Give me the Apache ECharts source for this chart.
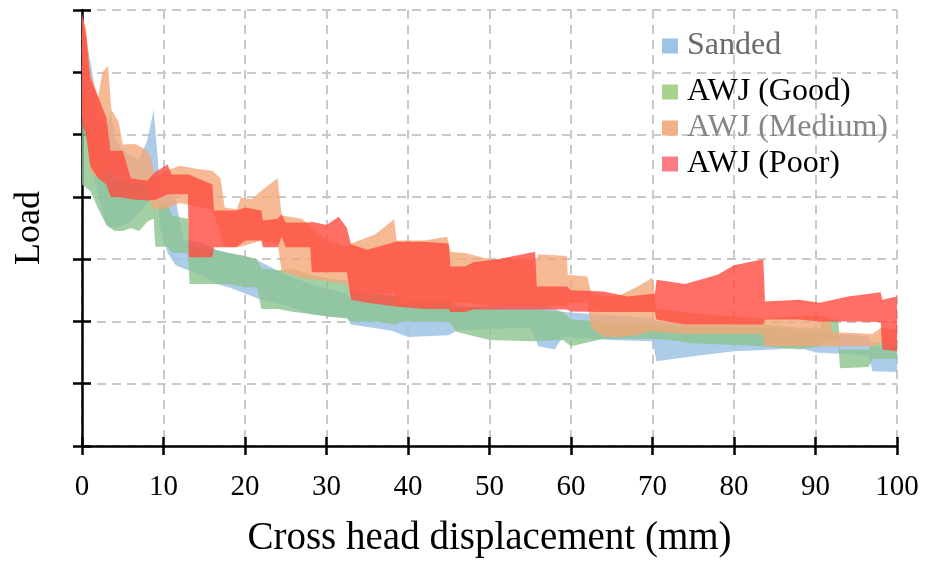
<!DOCTYPE html>
<html><head><meta charset="utf-8">
<script src="https://cdn.jsdelivr.net/npm/echarts@6/dist/echarts.min.js"></script>
<style>html,body{margin:0;padding:0;background:#fff}#c{width:926px;height:563px}</style>
</head><body><div id="c"></div>
<script>
const seriesNames = ['Sanded', 'AWJ (Good)', 'AWJ (Medium)', 'AWJ (Poor)'];

const sandedX    = [0, 1, 2, 3, 3.5, 4.2, 5, 6, 7, 8, 8.8, 9.3, 9.6, 10.5, 11.5, 12.5, 13.5, 15, 16.5, 18, 20, 22, 25, 28, 32.5, 33, 38, 40, 45, 46, 50, 55, 56, 58, 59, 65, 70, 70.5, 75, 80, 85, 88, 90, 95, 96.5, 97, 100];
const sandedLow  = [5.3, 4.6, 4.0, 3.55, 3.5, 3.5, 3.55, 3.6, 3.75, 3.9, 4.0, 3.95, 3.5, 3.1, 2.9, 2.85, 2.8, 2.72, 2.6, 2.55, 2.45, 2.35, 2.25, 2.12, 2.05, 1.95, 1.85, 1.75, 1.78, 1.85, 1.88, 1.9, 1.6, 1.55, 1.75, 1.7, 1.68, 1.36, 1.44, 1.52, 1.55, 1.58, 1.5, 1.47, 1.45, 1.2, 1.19];
const sandedHigh = [6.9, 6.2, 5.4, 5.1, 5.35, 4.9, 4.75, 4.65, 4.6, 4.9, 5.4, 4.6, 4.1, 4.1, 3.95, 3.3, 3.3, 3.25, 3.15, 3.1, 3.05, 2.95, 2.75, 2.6, 2.45, 2.35, 2.3, 2.25, 2.25, 2.2, 2.25, 2.32, 2.3, 2.2, 2.15, 2.1, 2.05, 2.0, 1.95, 1.9, 1.9, 1.85, 1.82, 1.78, 1.75, 1.6, 1.55];

const goodX    = [0, 1, 2, 3, 4, 5, 6, 7, 8, 8.8, 9, 10.5, 11, 13, 13.2, 16, 18, 20, 21.5, 22, 24, 26, 28, 30, 32.5, 33, 36, 38.5, 39, 45, 46, 50, 55, 59, 60, 64, 70, 72, 75, 80, 83.5, 88, 90.5, 91, 92.8, 93, 96.5, 97, 100];
const goodLow  = [4.2, 4.1, 3.8, 3.55, 3.45, 3.45, 3.5, 3.45, 3.6, 3.65, 3.2, 3.2, 3.1, 3.1, 2.6, 2.6, 2.6, 2.55, 2.55, 2.2, 2.2, 2.15, 2.12, 2.08, 2.05, 2.0, 2.0, 1.95, 2.0, 2.0, 1.83, 1.7, 1.68, 1.7, 1.6, 1.72, 1.72, 1.7, 1.65, 1.62, 1.6, 1.55, 1.6, 1.67, 1.67, 1.25, 1.27, 1.4, 1.4];
const goodHigh = [5.3, 5.0, 4.7, 4.4, 4.3, 4.25, 4.3, 4.25, 4.3, 4.15, 3.95, 3.9, 3.7, 3.65, 3.2, 3.15, 3.1, 3.05, 3.0, 2.85, 2.82, 2.84, 2.75, 2.7, 2.65, 2.5, 2.45, 2.4, 2.3, 2.35, 2.25, 2.2, 2.2, 2.15, 2.03, 2.0, 1.95, 1.92, 1.93, 1.95, 1.95, 1.9, 1.9, 2.03, 2.03, 1.55, 1.55, 1.67, 1.65];

const mediumX    = [0, 0.5, 1, 2, 2.5, 3.2, 3.6, 4.5, 5, 6.5, 8, 8.5, 9, 10, 12, 14, 16, 17, 17.5, 19, 19.5, 20.8, 22, 24, 24.5, 27, 30, 32.5, 33, 36, 38.3, 38.6, 42, 44.8, 45.2, 47, 50, 55.8, 56, 59.5, 59.6, 62, 62.5, 64, 66, 68, 70, 70.5, 74, 78, 83.5, 83.8, 90, 91.8, 92, 97, 98, 100];
const mediumLow  = [5.3, 5.2, 4.4, 4.3, 4.3, 4.4, 4.4, 4.3, 4.26, 4.2, 4.2, 3.85, 3.8, 3.8, 3.9, 3.85, 3.8, 3.4, 3.2, 3.2, 3.2, 3.25, 3.3, 3.25, 2.8, 2.7, 2.65, 2.6, 2.45, 2.45, 2.45, 2.25, 2.25, 2.25, 2.3, 2.3, 2.25, 2.25, 2.25, 2.25, 2.3, 2.3, 1.9, 1.75, 1.75, 1.78, 1.85, 1.83, 1.8, 1.8, 1.8, 1.6, 1.6, 1.6, 1.6, 1.6, 1.65, 1.65];
const mediumHigh = [6.9, 6.7, 6.0, 5.6, 6.0, 6.1, 5.4, 5.2, 4.84, 4.85, 4.75, 4.6, 4.3, 4.4, 4.5, 4.45, 4.42, 4.3, 3.83, 3.8, 3.99, 3.96, 4.1, 4.3, 3.7, 3.65, 3.3, 3.2, 3.25, 3.4, 3.64, 3.3, 3.3, 3.36, 3.12, 3.1, 3.0, 3.0, 3.08, 3.05, 2.75, 2.72, 2.45, 2.4, 2.42, 2.55, 2.7, 2.2, 2.15, 2.1, 2.05, 2.05, 2.1, 2.05, 1.83, 1.8, 1.9, 1.87];

const poorX    = [0, 0.5, 1, 2, 3, 3.5, 5, 6, 8, 9, 10.5, 11, 13, 13.1, 16, 16.2, 19, 20, 22, 22.2, 24, 24.5, 25, 28, 28.2, 30, 31.5, 32.5, 33, 35, 38.5, 42, 45, 45.2, 47, 48, 51, 55.6, 55.8, 59.5, 60, 64, 67, 70.3, 70.5, 74, 78, 80, 83.6, 83.8, 88, 90.5, 94, 98, 98.2, 100];
const poorLow  = [5.16, 5.0, 4.5, 4.3, 4.2, 4.0, 3.99, 3.96, 3.94, 3.95, 4.04, 4.04, 4.04, 3.03, 3.03, 3.19, 3.19, 3.3, 3.3, 3.19, 3.19, 3.36, 3.19, 3.19, 2.79, 2.79, 2.79, 2.79, 2.35, 2.3, 2.24, 2.2, 2.2, 2.15, 2.15, 2.19, 2.19, 2.19, 2.19, 2.19, 2.16, 2.15, 2.15, 2.15, 2.03, 1.95, 1.95, 1.95, 1.95, 2.03, 2.03, 2.0, 2.0, 1.99, 1.55, 1.52];
const poorHigh = [6.95, 6.6, 5.91, 5.6, 5.27, 4.74, 4.74, 4.3, 4.26, 4.4, 4.52, 4.36, 4.36, 4.36, 4.2, 3.78, 3.78, 3.83, 3.78, 3.62, 3.65, 3.72, 3.59, 3.59, 3.6, 3.55, 3.68, 3.5, 3.24, 3.15, 3.28, 3.28, 3.25, 2.88, 2.88, 2.95, 3.0, 3.12, 2.56, 2.56, 2.5, 2.48, 2.4, 2.45, 2.67, 2.6, 2.75, 2.9, 3.0, 2.32, 2.35, 2.3, 2.4, 2.47, 2.35, 2.4];

const FONT = "'Liberation Serif','Times New Roman',serif";
const fills = ['#9DC3E6', '#8CC38E', '#F2A878', '#FF4B3E'];
const fillOpacity = [0.85, 0.8, 0.8, 0.8];
const legendColors = ['#9DC3E6', '#A9D18E', '#F4B183', '#FF7C80'];
const legendTextColors = ['#6a6a6a', '#000000', '#858585', '#000000'];

function bandSeries(idx, xs, lo, hi) {
  return {
    type: 'custom', name: seriesNames[idx], coordinateSystem: 'cartesian2d',
    xAxisIndex: 0, yAxisIndex: 0,
    data: xs.map((x, i) => [x, lo[i], hi[i]]),
    encode: { x: 0, y: [1, 2] },
    itemStyle: { color: legendColors[idx] },
    clip: true, silent: true, animation: false, z: 2,
    renderItem: function (params, api) {
      if (params.dataIndex !== 0) return null;
      const pts = [];
      for (let i = 0; i < xs.length; i++) pts.push(api.coord([xs[i], hi[i]]));
      for (let i = xs.length - 1; i >= 0; i--) pts.push(api.coord([xs[i], lo[i]]));
      return { type: 'polygon', shape: { points: pts },
               style: { fill: fills[idx], opacity: fillOpacity[idx], stroke: null } };
    }
  };
}

const series = [
  bandSeries(0, sandedX, sandedLow, sandedHigh),
  bandSeries(1, goodX, goodLow, goodHigh),
  bandSeries(2, mediumX, mediumLow, mediumHigh),
  bandSeries(3, poorX, poorLow, poorHigh)
];

const axisLineStyle = { color: '#000', width: 2.5 };
const splitStyle = { color: '#c9c9c9', width: 2, type: [9, 6] };

function legendItem(i) {
  return { name: seriesNames[i], itemStyle: { color: legendColors[i] }, textStyle: { color: legendTextColors[i] } };
}
const legendCommon = {
  orient: 'vertical', left: 662, icon: 'rect', itemWidth: 16, itemHeight: 15, padding: 0,
  selectedMode: false, itemGap: 4, z: 10,
  textStyle: { fontFamily: FONT, fontSize: 32, lineHeight: 31, padding: [0, 0, 0, 4] }
};

const option = {
  backgroundColor: '#fff',
  animation: false,
  grid: { left: 82, right: 29, top: 10, bottom: 116 },
  legend: [
    Object.assign({}, legendCommon, { top: 30, data: [legendItem(0)] }),
    Object.assign({}, legendCommon, { top: 76, data: [legendItem(1), legendItem(2), legendItem(3)] })
  ],
  xAxis: [
    { type: 'value', min: 0, max: 100, interval: 10, position: 'bottom',
      name: 'Cross head displacement (mm)', nameLocation: 'middle', nameGap: 73,
      nameTextStyle: { fontFamily: FONT, fontSize: 39, color: '#000' },
      axisLine: { show: true, lineStyle: axisLineStyle },
      axisTick: { show: true, length: 9, lineStyle: axisLineStyle },
      axisLabel: { fontFamily: FONT, fontSize: 29, color: '#000', margin: 27 },
      splitLine: { show: true, lineStyle: splitStyle } },
    { type: 'value', min: 0, max: 100, interval: 10, position: 'bottom',
      axisLine: { show: false }, axisTick: { show: true, inside: true, length: 9, lineStyle: axisLineStyle },
      axisLabel: { show: false }, splitLine: { show: false } }
  ],
  yAxis: [
    { type: 'value', min: 0, max: 7, interval: 1, position: 'left',
      name: 'Load', nameLocation: 'middle', nameGap: 34, nameRotate: 90,
      nameTextStyle: { fontFamily: FONT, fontSize: 36, color: '#000' },
      axisLine: { show: true, lineStyle: axisLineStyle },
      axisTick: { show: true, length: 9, lineStyle: axisLineStyle },
      axisLabel: { show: false },
      splitLine: { show: true, lineStyle: splitStyle } },
    { type: 'value', min: 0, max: 7, interval: 1, position: 'left',
      axisLine: { show: false }, axisTick: { show: true, inside: true, length: 9, lineStyle: axisLineStyle },
      axisLabel: { show: false }, splitLine: { show: false } }
  ],
  series: series
};

const chart = echarts.init(document.getElementById('c'), null, { renderer: 'canvas' });
chart.setOption(option);
</script>
</body></html>
